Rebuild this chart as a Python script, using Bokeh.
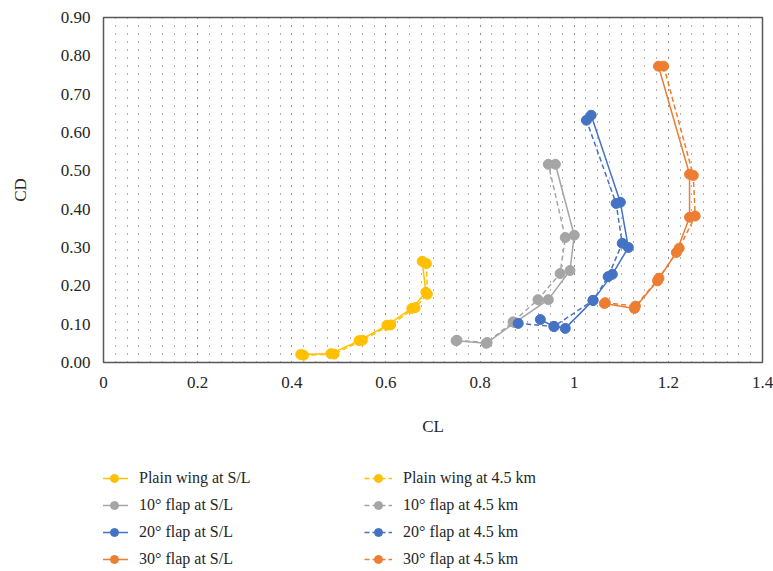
import numpy as np
from bokeh.plotting import figure
from bokeh.layouts import column
from bokeh.models import Legend, LegendItem, FixedTicker, CustomJSTickFormatter, PrintfTickFormatter, Range1d
from bokeh.embed import file_html
from bokeh.resources import INLINE

FONT = "Liberation Serif"

# ---- data ----
plain_sl_cl = [0.419, 0.483, 0.543, 0.602, 0.655, 0.685, 0.677]
plain_sl_cd = [0.021, 0.023, 0.057, 0.097, 0.141, 0.183, 0.264]
plain_45_cl = [0.425, 0.490, 0.550, 0.610, 0.662, 0.688, 0.686]
plain_45_cd = [0.019, 0.022, 0.058, 0.098, 0.143, 0.178, 0.258]

f10_sl_cl = [0.749, 0.813, 0.874, 0.945, 0.991, 1.000, 0.960]
f10_sl_cd = [0.057, 0.050, 0.104, 0.164, 0.240, 0.332, 0.517]
f10_45_cl = [0.751, 0.815, 0.870, 0.923, 0.970, 0.981, 0.945]
f10_45_cd = [0.058, 0.052, 0.106, 0.164, 0.232, 0.326, 0.517]

f20_sl_cl = [0.928, 0.957, 0.981, 1.040, 1.081, 1.115, 1.098, 1.036]
f20_sl_cd = [0.112, 0.094, 0.089, 0.162, 0.230, 0.300, 0.418, 0.645]
f20_45_cl = [0.881, 0.957, 1.040, 1.072, 1.102, 1.089, 1.026]
f20_45_cd = [0.102, 0.094, 0.162, 0.224, 0.311, 0.415, 0.632]

f30_sl_cl = [1.064, 1.128, 1.177, 1.217, 1.245, 1.245, 1.179]
f30_sl_cd = [0.154, 0.141, 0.213, 0.287, 0.379, 0.491, 0.773]
f30_45_cl = [1.066, 1.130, 1.180, 1.223, 1.257, 1.253, 1.190]
f30_45_cd = [0.156, 0.147, 0.220, 0.298, 0.382, 0.488, 0.773]

labels_sl = ["Plain wing at S/L", "10° flap at S/L", "20° flap at S/L", "30° flap at S/L"]
labels_45 = ["Plain wing at 4.5 km", "10° flap at 4.5 km", "20° flap at 4.5 km", "30° flap at 4.5 km"]
colors = ["#FFC000", "#A5A5A5", "#4472C4", "#ED7D31"]

x_ticks = [0, 0.2, 0.4, 0.6, 0.8, 1.0, 1.2, 1.4]
y_ticks = [0.0, 0.1, 0.2, 0.3, 0.4, 0.5, 0.6, 0.7, 0.8, 0.9]

sl_data = [(plain_sl_cl, plain_sl_cd), (f10_sl_cl, f10_sl_cd), (f20_sl_cl, f20_sl_cd), (f30_sl_cl, f30_sl_cd)]
km_data = [(plain_45_cl, plain_45_cd), (f10_45_cl, f10_45_cd), (f20_45_cl, f20_45_cd), (f30_45_cl, f30_45_cd)]

TOP_H = 450
p = figure(width=773, height=TOP_H, output_backend="svg", toolbar_location=None,
           x_range=Range1d(0, 1.4), y_range=Range1d(0, 0.9),
           min_border_left=103, min_border_right=11, min_border_top=17, min_border_bottom=TOP_H - 362)
p.background_fill_color = "white"
p.border_fill_color = "white"
p.outline_line_color = "#595959"
p.outline_line_width = 1.5

# dotted pattern background via dashed vertical grid lines
p.xaxis.ticker = FixedTicker(ticks=x_ticks, minor_ticks=list(np.arange(0, 1.4001, 0.025)))
p.yaxis.ticker = FixedTicker(ticks=y_ticks)
p.xgrid.grid_line_color = "#666666"
p.xgrid.grid_line_dash = "1 7"
p.xgrid.minor_grid_line_color = "#666666"
p.xgrid.minor_grid_line_dash = "1 7"
p.ygrid.grid_line_color = None

for ax in (p.xaxis, p.yaxis):
    ax.axis_line_color = None
    ax.major_tick_line_color = None
    ax.minor_tick_line_color = None
    ax.major_label_text_font = FONT
    ax.major_label_text_font_size = "17px"
    ax.major_label_text_color = "#262626"
    ax.axis_label_text_font = FONT
    ax.axis_label_text_font_size = "17px"
    ax.axis_label_text_font_style = "normal"
    ax.axis_label_text_color = "#262626"

p.xaxis.axis_label = "CL"
p.yaxis.axis_label = "CD"
p.xaxis.formatter = CustomJSTickFormatter(code="return String(Math.round(tick*10)/10);")
p.yaxis.formatter = PrintfTickFormatter(format="%.2f")
p.xaxis.major_label_standoff = 8
p.xaxis.axis_label_standoff = 26
p.yaxis.major_label_standoff = 7
p.yaxis.axis_label_standoff = 28

for (xs, ys), c in zip(sl_data, colors):
    p.line(xs, ys, line_color=c, line_width=1.5)
    p.scatter(xs, ys, marker="circle", size=10, fill_color=c, line_color=c)
for (xs, ys), c in zip(km_data, colors):
    p.line(xs, ys, line_color=c, line_width=1.5, line_dash="5 3")
    p.scatter(xs, ys, marker="circle", size=10, fill_color=c, line_color=c)

# ---- legend strip below (its frame is aligned with the main frame) ----
LEG_H = 571 - TOP_H
q = figure(width=773, height=LEG_H, output_backend="svg", toolbar_location=None,
           x_range=Range1d(10, 11), y_range=Range1d(10, 11),   # series kept out of view: legend only
           min_border_left=103, min_border_right=11, min_border_top=0, min_border_bottom=0,
           x_axis_type=None, y_axis_type=None)
q.outline_line_color = None
q.xgrid.visible = False
q.ygrid.visible = False
q.background_fill_color = "white"
q.border_fill_color = "white"

items_sl, items_45 = [], []
for (xs, ys), lab, c in zip(sl_data, labels_sl, colors):
    l = q.line(xs, ys, line_color=c, line_width=1.5)
    s = q.scatter(xs, ys, marker="circle", size=10, fill_color=c, line_color=c)
    items_sl.append(LegendItem(label=lab, renderers=[l, s]))
for (xs, ys), lab, c in zip(km_data, labels_45, colors):
    l = q.line(xs, ys, line_color=c, line_width=1.5, line_dash="5 3")
    s = q.scatter(xs, ys, marker="circle", size=10, fill_color=c, line_color=c)
    items_45.append(LegendItem(label=lab, renderers=[l, s]))

def make_legend(items, x):
    return Legend(items=items, location=(x, 2), orientation="vertical",
                  glyph_width=28, glyph_height=20, label_height=20, spacing=7,
                  label_standoff=11, padding=0, margin=0,
                  border_line_color=None, background_fill_alpha=0,
                  label_text_font=FONT, label_text_font_size="16px", label_text_color="#262626")

q.add_layout(make_legend(items_sl, -3))
q.add_layout(make_legend(items_45, 261))

layout = column(p, q, spacing=0)
open("out.html", "w").write(file_html(layout, INLINE))
